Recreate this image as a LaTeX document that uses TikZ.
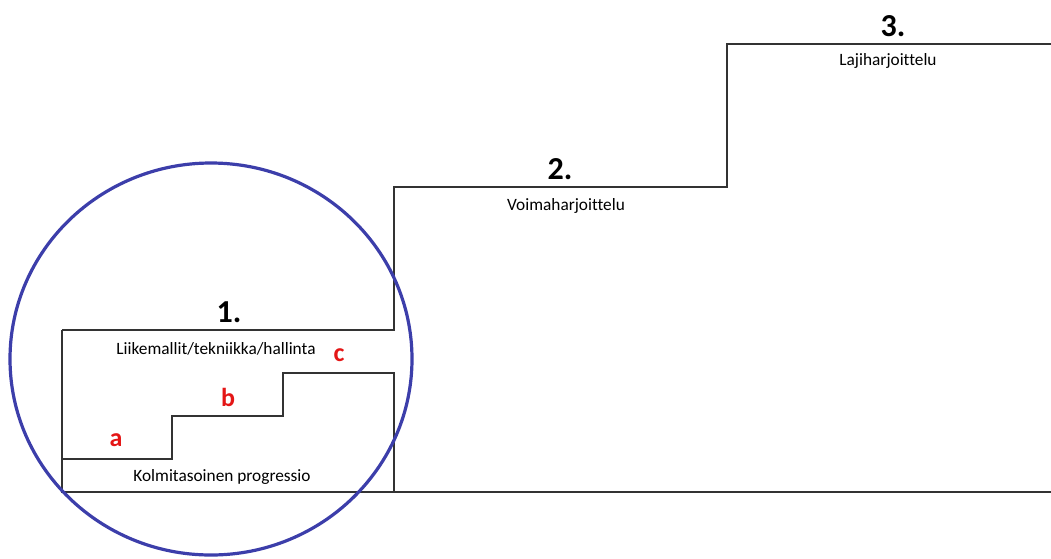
\documentclass[tikz,border=0pt]{standalone}
\usepackage{fontspec}
\setmainfont{Carlito}[Ligatures=NoCommon]
\definecolor{ringblue}{RGB}{60,62,170}
\definecolor{levelred}{RGB}{228,22,22}
\begin{document}
\begin{tikzpicture}[x=1pt,y=-1pt,
    stair/.style={draw=black!80,line width=1.3pt},
    stepnum/.style={font=\fontsize{32}{34}\selectfont\bfseries},
    steptext/.style={font=\fontsize{17.3}{19}\selectfont},
    level/.style={text=levelred,font=\fontsize{26}{28}\selectfont\bfseries}]
    \useasboundingbox (0,0) rectangle (1051,558);

    % big stairs
    \draw[stair] (62,330) -- (62,492) -- (1051,492);
    \draw[stair] (62,330) -- (394,330) -- (394,187) -- (727,187) -- (727,44) -- (1051,44);

    % small stairs
    \draw[stair] (62,459) -- (172,459) -- (172,416) -- (283,416) -- (283,373) -- (394,373) -- (394,492);

    % ring
    \draw[ringblue,line width=3.2pt] (211,359) ellipse [x radius=201,y radius=196];

    % labels
    \node[stepnum] (one) at (229,312) {1.};
    \node[stepnum] (two) at (560,169) {2.};
    \node[stepnum] (three) at (893,26) {3.};
    \node[steptext] (move) at (216,349) {Liikemallit/tekniikka/hallinta};
    \node[steptext] (power) at (566,206) {Voimaharjoittelu};
    \node[steptext] (sport) at (888,61) {Lajiharjoittelu};
    \node[steptext] (prog) at (222,477) {Kolmitasoinen progressio};
    \foreach \name/\x/\y in {a/116/440, b/228/397, c/339/355}
        \node[level] (lev\name) at (\x,\y) {\name};
\end{tikzpicture}
\end{document}
